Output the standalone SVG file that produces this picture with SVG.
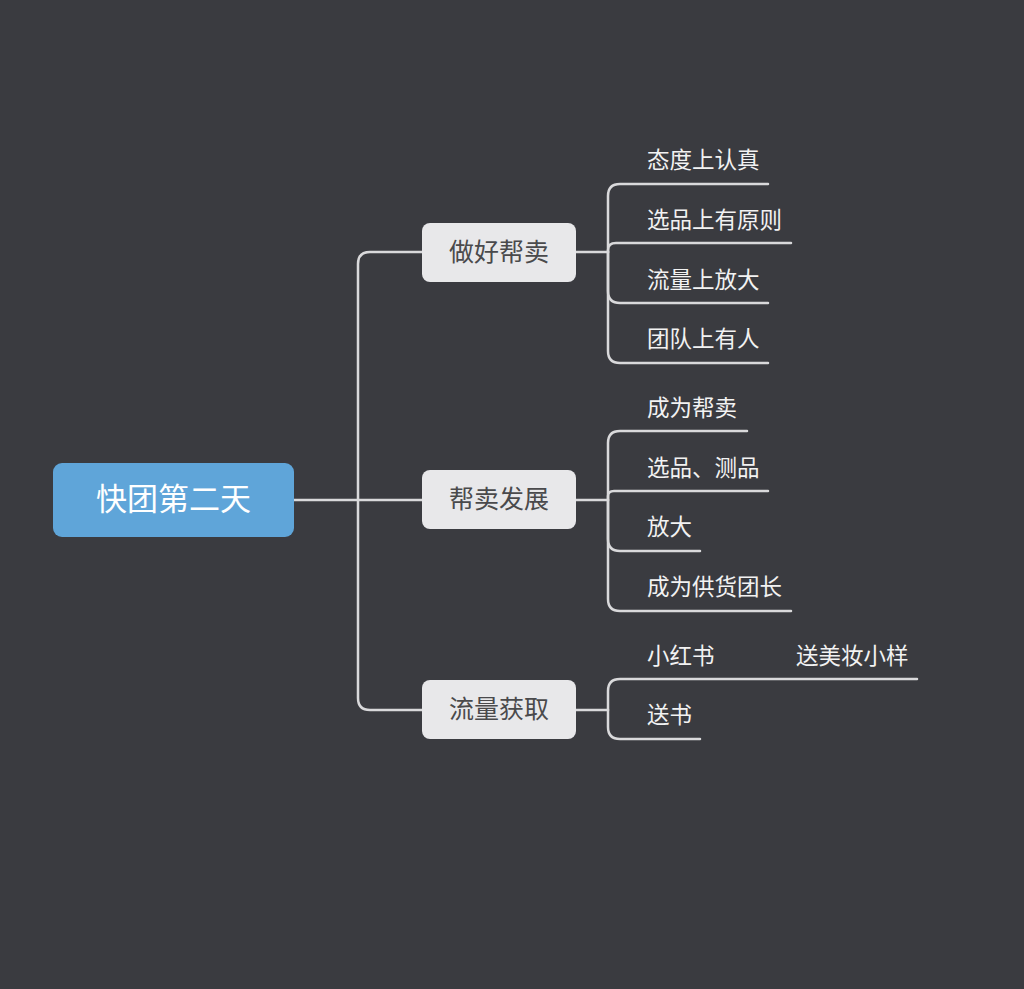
<svg xmlns="http://www.w3.org/2000/svg" width="1024" height="989" viewBox="0 0 1024 989">
<style>
.bg{fill:#3a3b40}
.ln{fill:none;stroke:#d9d9db;stroke-width:2.5;stroke-linecap:round}
.t{font-family:"Noto Sans CJK SC","Noto Sans",sans-serif}
.root{fill:#5fa5d9}
.main{fill:#e8e8ea}
.mt{fill:#4a4a4c;font-size:25px}
.ct{fill:#f2f2f2;font-size:22.5px}
</style>
<rect class="bg" x="0" y="0" width="1024" height="989"/>
<g id="connectors">
<path class="ln" d="M294 500 H422"/>
<path class="ln" d="M358 500 V264 Q358 252 370 252 H422"/>
<path class="ln" d="M358 500 V698 Q358 710 370 710 H422"/>
<path class="ln" d="M576 252 H608"/>
<path class="ln" d="M608 252 V196 Q608 184 620 184 H768"/>
<path class="ln" d="M608 252 V250 Q608 243 616 243 H791"/>
<path class="ln" d="M608 252 V291 Q608 303 620 303 H768"/>
<path class="ln" d="M608 252 V351 Q608 363 620 363 H768"/>
<path class="ln" d="M576 500 H608"/>
<path class="ln" d="M608 500 V443 Q608 431 620 431 H747"/>
<path class="ln" d="M608 500 V496 Q608 491 614 491 H768"/>
<path class="ln" d="M608 500 V539 Q608 551 620 551 H700"/>
<path class="ln" d="M608 500 V599 Q608 611 620 611 H791"/>
<path class="ln" d="M576 710 H608"/>
<path class="ln" d="M608 710 V691 Q608 679 620 679 H917"/>
<path class="ln" d="M608 710 V727 Q608 739 620 739 H700"/>
</g>
<g id="root">
<rect class="root" x="53" y="463" width="241" height="74" rx="9"/>
<text class="t" x="173.5" y="510" font-size="31" fill="#ffffff" text-anchor="middle">快团第二天</text>
</g>
<g id="n1">
<rect class="main" x="422" y="223" width="154" height="59" rx="8"/>
<text class="t mt" x="499" y="261" text-anchor="middle">做好帮卖</text>
</g>
<g id="n2">
<rect class="main" x="422" y="470" width="154" height="59" rx="8"/>
<text class="t mt" x="499" y="508" text-anchor="middle">帮卖发展</text>
</g>
<g id="n3">
<rect class="main" x="422" y="680" width="154" height="59" rx="8"/>
<text class="t mt" x="499" y="718" text-anchor="middle">流量获取</text>
</g>
<g id="n1c1"><text class="t ct" x="647" y="168">态度上认真</text></g>
<g id="n1c2"><text class="t ct" x="647" y="228">选品上有原则</text></g>
<g id="n1c3"><text class="t ct" x="647" y="288">流量上放大</text></g>
<g id="n1c4"><text class="t ct" x="647" y="347">团队上有人</text></g>
<g id="n2c1"><text class="t ct" x="647" y="416">成为帮卖</text></g>
<g id="n2c2"><text class="t ct" x="647" y="476">选品、测品</text></g>
<g id="n2c3"><text class="t ct" x="647" y="535">放大</text></g>
<g id="n2c4"><text class="t ct" x="647" y="595">成为供货团长</text></g>
<g id="n3c1"><text class="t ct" x="647" y="664">小红书</text></g>
<g id="n3c1a"><text class="t ct" x="796" y="664">送美妆小样</text></g>
<g id="n3c2"><text class="t ct" x="647" y="723">送书</text></g>
</svg>
